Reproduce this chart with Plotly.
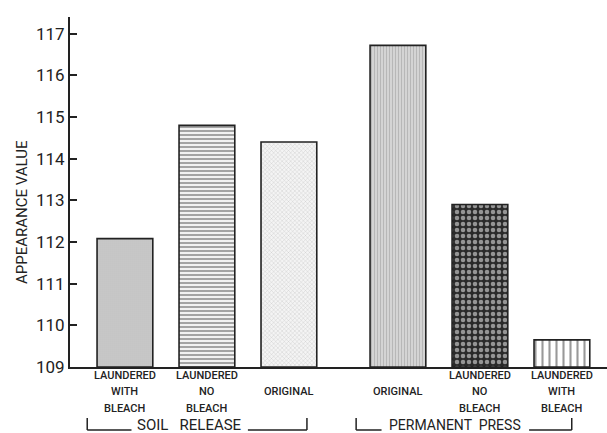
import plotly.graph_objects as go

# ---- data ----
categories = [
    "LAUNDERED<br>WITH<br>BLEACH",
    "LAUNDERED<br>NO<br>BLEACH",
    "ORIGINAL",
    "ORIGINAL",
    "LAUNDERED<br>NO<br>BLEACH",
    "LAUNDERED<br>WITH<br>BLEACH",
]
groups = ["SOIL RELEASE", "SOIL RELEASE", "SOIL RELEASE",
          "PERMANENT PRESS", "PERMANENT PRESS", "PERMANENT PRESS"]
values = [112.08, 114.8, 114.4, 116.72, 112.9, 109.65]
y_ticks = [109, 110, 111, 112, 113, 114, 115, 116, 117]

# ---- styling ----
GROUP_GAP = 0.33
patterns = [
    dict(shape=".", fgcolor="#9a9a9a", bgcolor="#d0d0d0", size=2, solidity=0.4),
    dict(shape="-", fgcolor="#555555", bgcolor="#f2f2f2", size=4, solidity=0.5),
    dict(shape="x", fgcolor="#9a9a9a", bgcolor="#f4f4f4", size=3, solidity=0.25),
    dict(shape="|", fgcolor="#9a9a9a", bgcolor="#d4d4d4", size=3, solidity=0.35),
    dict(shape=".", fgcolor="#ffffff", bgcolor="#2a2a2a", size=6, solidity=0.45),
    dict(shape="|", fgcolor="#333333", bgcolor="#ffffff", size=7, solidity=0.3),
]

xpos = []
for i, g in enumerate(groups):
    xpos.append(i + (GROUP_GAP if g != groups[0] else 0))

FONT = "Roboto"
INK = "#222222"
BASE = y_ticks[0]
PLOT_H = 433 - 17 - 66  # plot area height in px

fig = go.Figure()
for i in range(len(values)):
    fig.add_trace(go.Bar(
        x=[xpos[i]], y=[values[i] - BASE], base=BASE, width=0.68,
        marker=dict(color=patterns[i]["bgcolor"], pattern=patterns[i],
                    line=dict(color=INK, width=1.6)),
        showlegend=False, hoverinfo="skip",
    ))

fig.update_layout(
    width=607, height=433,
    margin=dict(l=70, r=0, t=17, b=66, autoexpand=False),
    paper_bgcolor="white", plot_bgcolor="white",
    barmode="overlay",
    font=dict(family=FONT, color=INK),
    xaxis=dict(
        range=[-0.67, 5.88], showticklabels=False,
        showgrid=False, zeroline=False, showline=True, linecolor=INK,
        linewidth=2, ticks="",
    ),
    yaxis=dict(
        range=[109, 117.4], tickmode="array", tickvals=y_ticks,
        ticktext=[str(v) for v in y_ticks],
        showgrid=False, zeroline=False, showline=True, linecolor=INK,
        linewidth=2, ticks="inside", ticklen=7, tickwidth=1.5, tickcolor=INK,
        tickfont=dict(family=FONT, size=17, color=INK),
    ),
)

# y-axis title
fig.add_annotation(x=-48 / 537, y=(367 - 212) / PLOT_H, xref="paper", yref="paper",
                   text="APPEARANCE VALUE", textangle=-90, showarrow=False,
                   xanchor="center", yanchor="middle",
                   font=dict(family=FONT, size=15, color=INK))

# category labels, one annotation per text line
LINE_PX = 16.5
for i, cat in enumerate(categories):
    lines = cat.split("<br>")
    offsets = [1] if len(lines) == 1 else list(range(len(lines)))
    for ln, off in zip(lines, offsets):
        ypx = 8 + off * LINE_PX
        fig.add_annotation(x=xpos[i], y=-ypx / PLOT_H, xref="x", yref="paper",
                           text=ln, showarrow=False, yanchor="middle", xanchor="center",
                           font=dict(family=FONT, size=11, color=INK, weight=500))

# group brackets and labels
def add_bracket(x_left, x_right, text_left, text_right, label, size):
    y_top, y_bot = -51 / PLOT_H, -63 / PLOT_H
    line = dict(color=INK, width=1.5)
    fig.add_shape(type="line", xref="x", yref="paper", x0=x_left, x1=x_left, y0=y_top, y1=y_bot, line=line)
    fig.add_shape(type="line", xref="x", yref="paper", x0=x_right, x1=x_right, y0=y_top, y1=y_bot, line=line)
    fig.add_shape(type="line", xref="x", yref="paper", x0=x_left, x1=text_left, y0=y_bot, y1=y_bot, line=line)
    fig.add_shape(type="line", xref="x", yref="paper", x0=text_right, x1=x_right, y0=y_bot, y1=y_bot, line=line)
    fig.add_annotation(x=(text_left + text_right) / 2, y=-58 / PLOT_H, xref="x", yref="paper",
                       text=label, showarrow=False, yanchor="middle",
                       font=dict(family=FONT, size=size, color=INK))

add_bracket(-0.46, 2.22, 0.08, 1.5, "SOIL &nbsp;&nbsp;RELEASE", 15)
add_bracket(2.82, 5.45, 3.13, 4.93, "PERMANENT &nbsp;PRESS", 14)

fig.write_html("out.html", post_script="document.body.style.margin='0';",
               config={"displayModeBar": False})
